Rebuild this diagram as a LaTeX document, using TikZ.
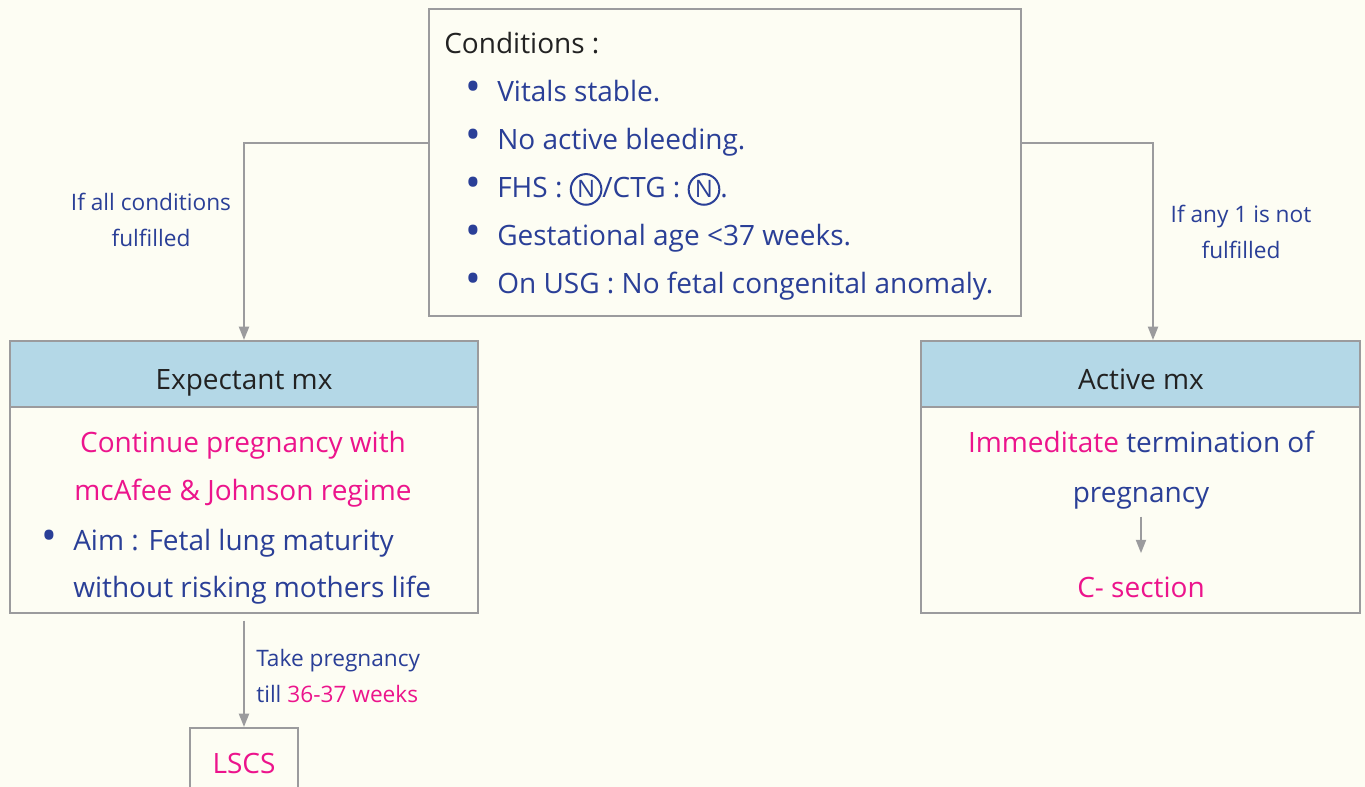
\documentclass[tikz,border=0pt]{standalone}
\usepackage{fontspec}
\setmainfont{Open Sans}
\usetikzlibrary{arrows.meta, positioning}

% circled N, drawn as a small ring
\newcommand{\circN}{\tikz[baseline=(cn.base)]\node[circle, draw=inkblue, line width=1.5pt,
    minimum size=23pt, inner sep=0pt, font=\fontsize{18}{18}\selectfont, text=inkblue] (cn) {N};}
% bigger list dot
\newcommand{\dotmark}{\llap{\scalebox{1.5}{•}\hspace{12pt}}}

\begin{document}
\begin{tikzpicture}[
    x=0.75pt, y=-0.75pt,
    every node/.style={inner sep=0pt},
    box/.style={draw=linegray, line width=1.5pt, fill=paper},
    headbox/.style={draw=linegray, line width=1.5pt, fill=headblue},
    flow/.style={-{Triangle[length=10pt, width=7.5pt]}, draw=linegray, line width=1.5pt},
    body/.style={font=\fontsize{21}{36}\selectfont, text=inkblue},
    title/.style={font=\fontsize{21}{36}\selectfont, text=inkblack},
    note/.style={font=\fontsize{17}{27}\selectfont, text=inkblue, align=center},
]

% Colours
\definecolor{paper}{HTML}{FDFDF3}
\definecolor{linegray}{HTML}{9B9B9D}
\definecolor{headblue}{HTML}{B4D8E7}
\definecolor{inkblue}{HTML}{2A3F97}
\definecolor{inkpink}{HTML}{EC148C}
\definecolor{inkblack}{HTML}{222222}

\path[use as bounding box, fill=paper] (0,0) rectangle (1365,787);

% Boxes
\node[box, minimum width=592*0.75pt, minimum height=307*0.75pt] (cond) at (725,162.5) {};
\node[box, minimum width=468*0.75pt, minimum height=206*0.75pt] (ebody) at (244,510) {};
\node[headbox, minimum width=468*0.75pt, minimum height=66*0.75pt] (ehead) at (244,374) {};
\node[box, minimum width=439*0.75pt, minimum height=206*0.75pt] (abody) at (1140.5,510) {};
\node[headbox, minimum width=439*0.75pt, minimum height=66*0.75pt] (ahead) at (1140.5,374) {};
\node[box, minimum width=108*0.75pt, minimum height=70*0.75pt,
      font=\fontsize{21}{36}\selectfont, text=inkpink] (lscs) at (244,763) {LSCS};

% Conditions
\node[title, anchor=base west] (condtitle) at (444,54) {Conditions :};
\node[body, anchor=base west] (c1) at (497,102) {\dotmark Vitals stable.};
\node[body, anchor=base west] (c2) at (497,150) {\dotmark No active bleeding.};
\node[body, anchor=base west] (c3) at (497,198) {\dotmark FHS : \circN/CTG : \circN.};
\node[body, anchor=base west] (c4) at (497,246) {\dotmark Gestational age <37 weeks.};
\node[body, anchor=base west] (c5) at (497,294) {\dotmark On USG : No fetal congenital anomaly.};

% Expectant management
\node[title, anchor=base] (etitle) at (244,390) {Expectant mx};
\node[body, text=inkpink, anchor=base] (cont1) at (243,453) {Continue pregnancy with};
\node[body, text=inkpink, anchor=base] (cont2) at (243,501) {mcAfee \& Johnson regime};
\node[body, anchor=base west] (aim1) at (73,551) {\dotmark Aim : Fetal lung maturity};
\node[body, anchor=base west] (aim2) at (73,598) {without risking mothers life};

% Active management
\node[title, anchor=base] (atitle) at (1141,390) {Active mx};
\node[body, anchor=base] (term) at (1141,453) {\textcolor{inkpink}{Immeditate} termination of};
\node[body, anchor=base] (preg) at (1141,503) {pregnancy};
\node[body, text=inkpink, anchor=base] (csec) at (1141,598) {C- section};

% Connectors
\coordinate (lturn) at (244,143);
\coordinate (rturn) at (1153,143);
\draw[flow] (cond.west |- lturn) -| (ehead.north);
\draw[flow] (cond.east |- rturn) -- (rturn) -- (rturn |- ahead.north);
\draw[flow, shorten <=5pt, shorten >=18pt] (preg.south) -- (csec.north);
\draw[flow] ([yshift=-5pt]ebody.south) -- (lscs.north);

% Branch labels
\node[note] (lallok) at (151,220) {If all conditions\\fulfilled};
\node[note] (lanyno) at (1241,232) {If any 1 is not\\fulfilled};
\node[note, align=left, anchor=west] (ltill) at (256,676) {Take pregnancy\\till \textcolor{inkpink}{36-37 weeks}};

\end{tikzpicture}
\end{document}
